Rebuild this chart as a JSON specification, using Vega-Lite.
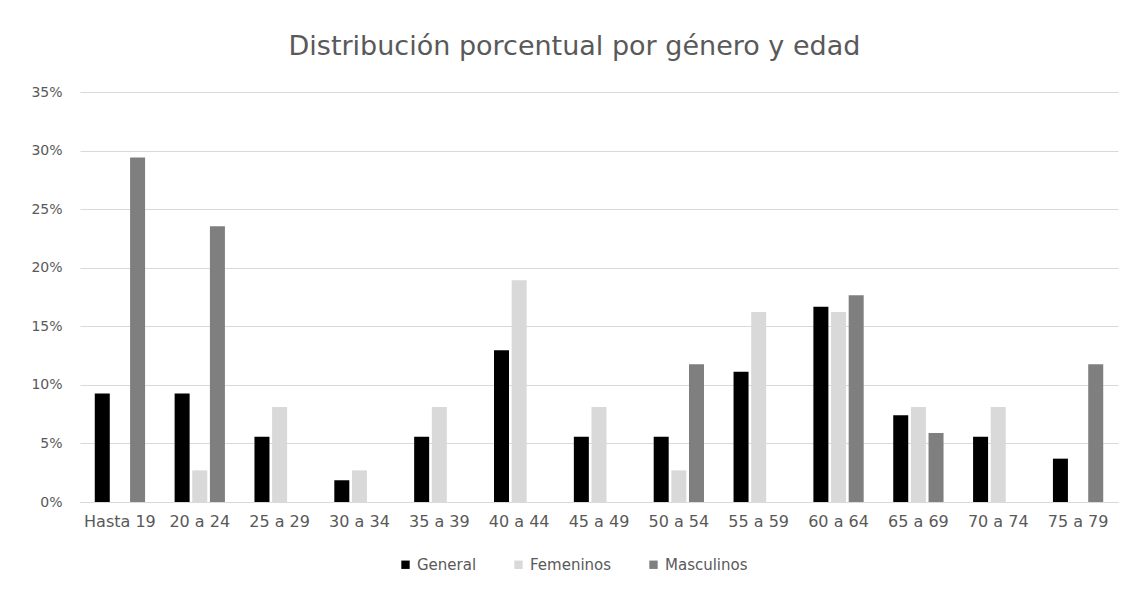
{
  "$schema": "https://vega.github.io/schema/vega-lite/v6.json",
  "width": 1038,
  "height": 410,
  "autosize": {"type": "none"},
  "padding": {"left": 80, "top": 92, "right": 12, "bottom": 88},
  "background": "white",
  "title": {
    "text": "Distribución porcentual por género y edad",
    "fontSize": 27,
    "font": "DejaVu Sans",
    "fontWeight": "normal",
    "color": "#595959",
    "anchor": "middle",
    "frame": "bounds",
    "offset": 24
  },
  "config": {
    "font": "DejaVu Sans",
    "view": {"stroke": null}
  },
  "data": {
    "values": [
      {"edad": "Hasta 19", "serie": "General", "valor": 0.0926},
      {"edad": "Hasta 19", "serie": "Femeninos", "valor": 0},
      {"edad": "Hasta 19", "serie": "Masculinos", "valor": 0.2941},
      {"edad": "20 a 24", "serie": "General", "valor": 0.0926},
      {"edad": "20 a 24", "serie": "Femeninos", "valor": 0.0270},
      {"edad": "20 a 24", "serie": "Masculinos", "valor": 0.2353},
      {"edad": "25 a 29", "serie": "General", "valor": 0.0556},
      {"edad": "25 a 29", "serie": "Femeninos", "valor": 0.0811},
      {"edad": "25 a 29", "serie": "Masculinos", "valor": 0},
      {"edad": "30 a 34", "serie": "General", "valor": 0.0185},
      {"edad": "30 a 34", "serie": "Femeninos", "valor": 0.0270},
      {"edad": "30 a 34", "serie": "Masculinos", "valor": 0},
      {"edad": "35 a 39", "serie": "General", "valor": 0.0556},
      {"edad": "35 a 39", "serie": "Femeninos", "valor": 0.0811},
      {"edad": "35 a 39", "serie": "Masculinos", "valor": 0},
      {"edad": "40 a 44", "serie": "General", "valor": 0.1296},
      {"edad": "40 a 44", "serie": "Femeninos", "valor": 0.1892},
      {"edad": "40 a 44", "serie": "Masculinos", "valor": 0},
      {"edad": "45 a 49", "serie": "General", "valor": 0.0556},
      {"edad": "45 a 49", "serie": "Femeninos", "valor": 0.0811},
      {"edad": "45 a 49", "serie": "Masculinos", "valor": 0},
      {"edad": "50 a 54", "serie": "General", "valor": 0.0556},
      {"edad": "50 a 54", "serie": "Femeninos", "valor": 0.0270},
      {"edad": "50 a 54", "serie": "Masculinos", "valor": 0.1176},
      {"edad": "55 a 59", "serie": "General", "valor": 0.1111},
      {"edad": "55 a 59", "serie": "Femeninos", "valor": 0.1622},
      {"edad": "55 a 59", "serie": "Masculinos", "valor": 0},
      {"edad": "60 a 64", "serie": "General", "valor": 0.1667},
      {"edad": "60 a 64", "serie": "Femeninos", "valor": 0.1622},
      {"edad": "60 a 64", "serie": "Masculinos", "valor": 0.1765},
      {"edad": "65 a 69", "serie": "General", "valor": 0.0741},
      {"edad": "65 a 69", "serie": "Femeninos", "valor": 0.0811},
      {"edad": "65 a 69", "serie": "Masculinos", "valor": 0.0588},
      {"edad": "70 a 74", "serie": "General", "valor": 0.0556},
      {"edad": "70 a 74", "serie": "Femeninos", "valor": 0.0811},
      {"edad": "70 a 74", "serie": "Masculinos", "valor": 0},
      {"edad": "75 a 79", "serie": "General", "valor": 0.0370},
      {"edad": "75 a 79", "serie": "Femeninos", "valor": 0},
      {"edad": "75 a 79", "serie": "Masculinos", "valor": 0.1176}
    ]
  },
  "mark": {"type": "bar"},
  "encoding": {
    "x": {
      "field": "edad",
      "type": "nominal",
      "sort": null,
      "scale": {"paddingInner": 0.37, "paddingOuter": 0.185},
      "axis": {
        "title": null,
        "labelAngle": 0,
        "labelFontSize": 16,
        "labelColor": "#595959",
        "ticks": false,
        "domain": true,
        "domainColor": "#d9d9d9",
        "labelPadding": 11
      }
    },
    "xOffset": {
      "field": "serie",
      "type": "nominal",
      "sort": ["General", "Femeninos", "Masculinos"],
      "scale": {"paddingInner": 0.15, "paddingOuter": 0}
    },
    "y": {
      "field": "valor",
      "type": "quantitative",
      "scale": {"domain": [0, 0.35], "nice": false},
      "axis": {
        "title": null,
        "format": ".0%",
        "values": [0, 0.05, 0.1, 0.15, 0.2, 0.25, 0.3, 0.35],
        "labelFontSize": 14,
        "labelColor": "#595959",
        "ticks": false,
        "domain": false,
        "gridColor": "#d9d9d9",
        "labelPadding": 18
      }
    },
    "color": {
      "field": "serie",
      "type": "nominal",
      "sort": ["General", "Femeninos", "Masculinos"],
      "scale": {
        "domain": ["General", "Femeninos", "Masculinos"],
        "range": ["#000000", "#d9d9d9", "#7f7f7f"]
      },
      "legend": {
        "title": null,
        "orient": "none",
        "legendX": 318,
        "legendY": 465,
        "direction": "horizontal",
        "symbolType": "square",
        "symbolSize": 70,
        "labelFontSize": 15,
        "labelColor": "#595959",
        "labelOffset": 4,
        "columnPadding": 34
      }
    }
  }
}
